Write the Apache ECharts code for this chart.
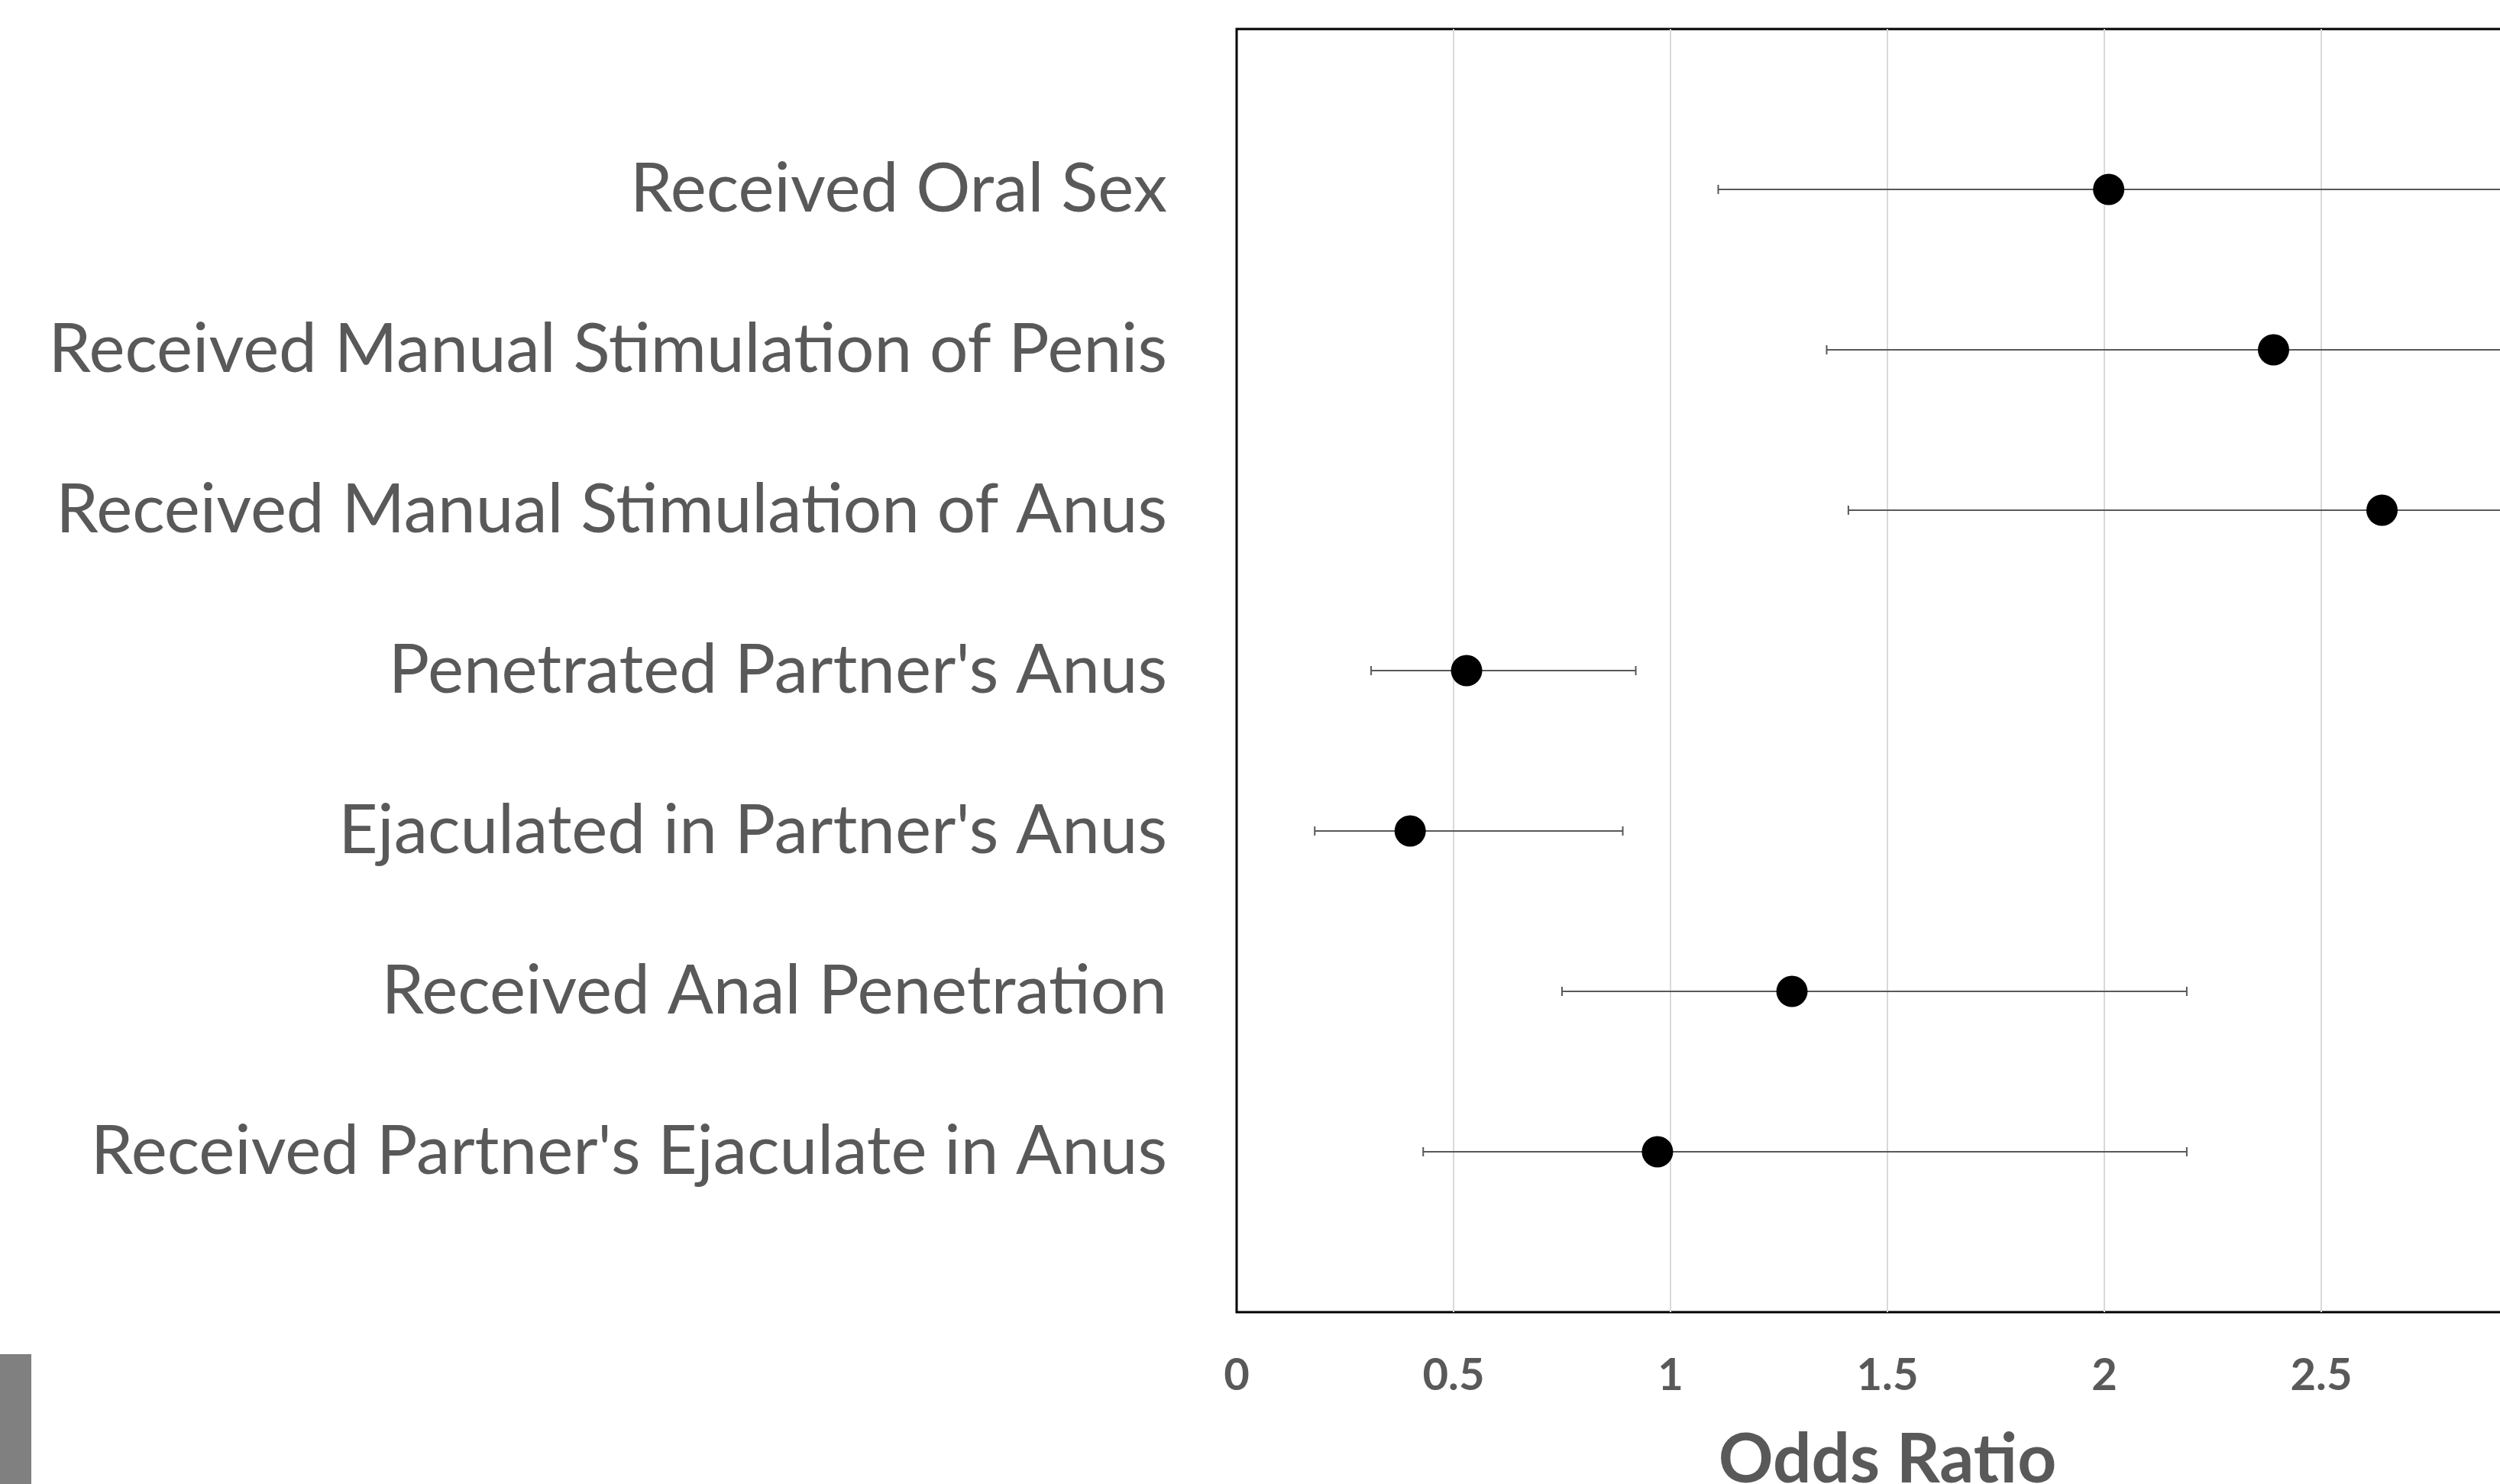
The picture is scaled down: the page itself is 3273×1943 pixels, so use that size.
<!DOCTYPE html>
<html>
<head>
<meta charset="utf-8">
<script src="https://cdn.jsdelivr.net/npm/echarts@6/dist/echarts.min.js"></script>
<style>
  html, body { margin: 0; padding: 0; background: #fff; }
  #main { width: 3273px; height: 1943px; }
</style>
</head>
<body>
<div id="main"></div>
<script>
const categories = [
    'Received Oral Sex',
    'Received Manual Stimulation of Penis',
    'Received Manual Stimulation of Anus',
    "Penetrated Partner's Anus",
    "Ejaculated in Partner's Anus",
    'Received Anal Penetration',
    "Received Partner's Ejaculate in Anus"
];
const oddsRatio = [2.01, 2.39, 2.64, 0.53, 0.40, 1.28, 0.97];
const ciLower = [1.11, 1.36, 1.41, 0.31, 0.18, 0.75, 0.43];
// upper limits of the first three rows run past the cropped right edge
const ciUpper = [3.65, 4.2, 4.9, 0.92, 0.89, 2.19, 2.19];

const chartDom = document.getElementById('main');
const myChart = echarts.init(chartDom);

const points = oddsRatio.map((v, i) => [v, i + 1]);
const bars = ciLower.map((lo, i) => [lo, ciUpper[i], i + 1]);

const option = {
    animation: false,
    backgroundColor: '#fff',
    grid: {
        left: 1619,
        top: 38,
        height: 1680,
        width: 1704, // 0..3, right side is cut off like the original crop
        show: true,
        borderColor: '#000',
        borderWidth: 3,
        containLabel: false,
        outerBoundsMode: 'none'
    },
    xAxis: {
        type: 'value',
        min: 0,
        max: 3,
        interval: 0.5,
        axisLine: { show: false },
        axisTick: { show: false },
        splitLine: { show: true, showMinLine: false, showMaxLine: false, lineStyle: { color: '#d9d9d9', width: 2 } },
        axisLabel: {
            margin: 54,
            fontFamily: 'Lato',
            fontWeight: 'bold',
            fontSize: 58,
            color: '#595959'
        },
        name: 'Odds Ratio',
        nameLocation: 'middle',
        nameGap: 150,
        nameTextStyle: {
            fontFamily: 'Lato',
            fontWeight: 'bold',
            fontSize: 89,
            color: '#595959'
        }
    },
    yAxis: {
        type: 'value',
        min: 0,
        max: 8,
        interval: 1,
        inverse: true,
        axisLine: { show: false },
        axisTick: { show: false },
        splitLine: { show: false },
        axisLabel: {
            margin: 91,
            fontFamily: 'Lato',
            fontSize: 89,
            color: '#595959',
            formatter: v => categories[v - 1] || ''
        }
    },
    series: [
        {
            type: 'custom',
            data: bars,
            encode: { x: [0, 1], y: 2 },
            clip: false,
            renderItem: (params, api) => {
                const y = api.value(2);
                const p0 = api.coord([api.value(0), y]);
                const p1 = api.coord([api.value(1), y]);
                const h = 6;
                const style = { stroke: '#595959', lineWidth: 2 };
                return {
                    type: 'group',
                    children: [
                        { type: 'line', shape: { x1: p0[0], y1: p0[1], x2: p1[0], y2: p1[1] }, style },
                        { type: 'line', shape: { x1: p0[0], y1: p0[1] - h, x2: p0[0], y2: p0[1] + h }, style },
                        { type: 'line', shape: { x1: p1[0], y1: p1[1] - h, x2: p1[0], y2: p1[1] + h }, style }
                    ]
                };
            },
            z: 2
        },
        {
            type: 'scatter',
            data: points,
            symbol: 'circle',
            symbolSize: 41,
            itemStyle: { color: '#000', opacity: 1 },
            z: 3
        }
    ],
    graphic: [
        {
            type: 'rect',
            left: 0,
            top: 1773,
            shape: { width: 41, height: 170 },
            style: { fill: '#808080' }
        }
    ]
};

myChart.setOption(option);
</script>
</body>
</html>
